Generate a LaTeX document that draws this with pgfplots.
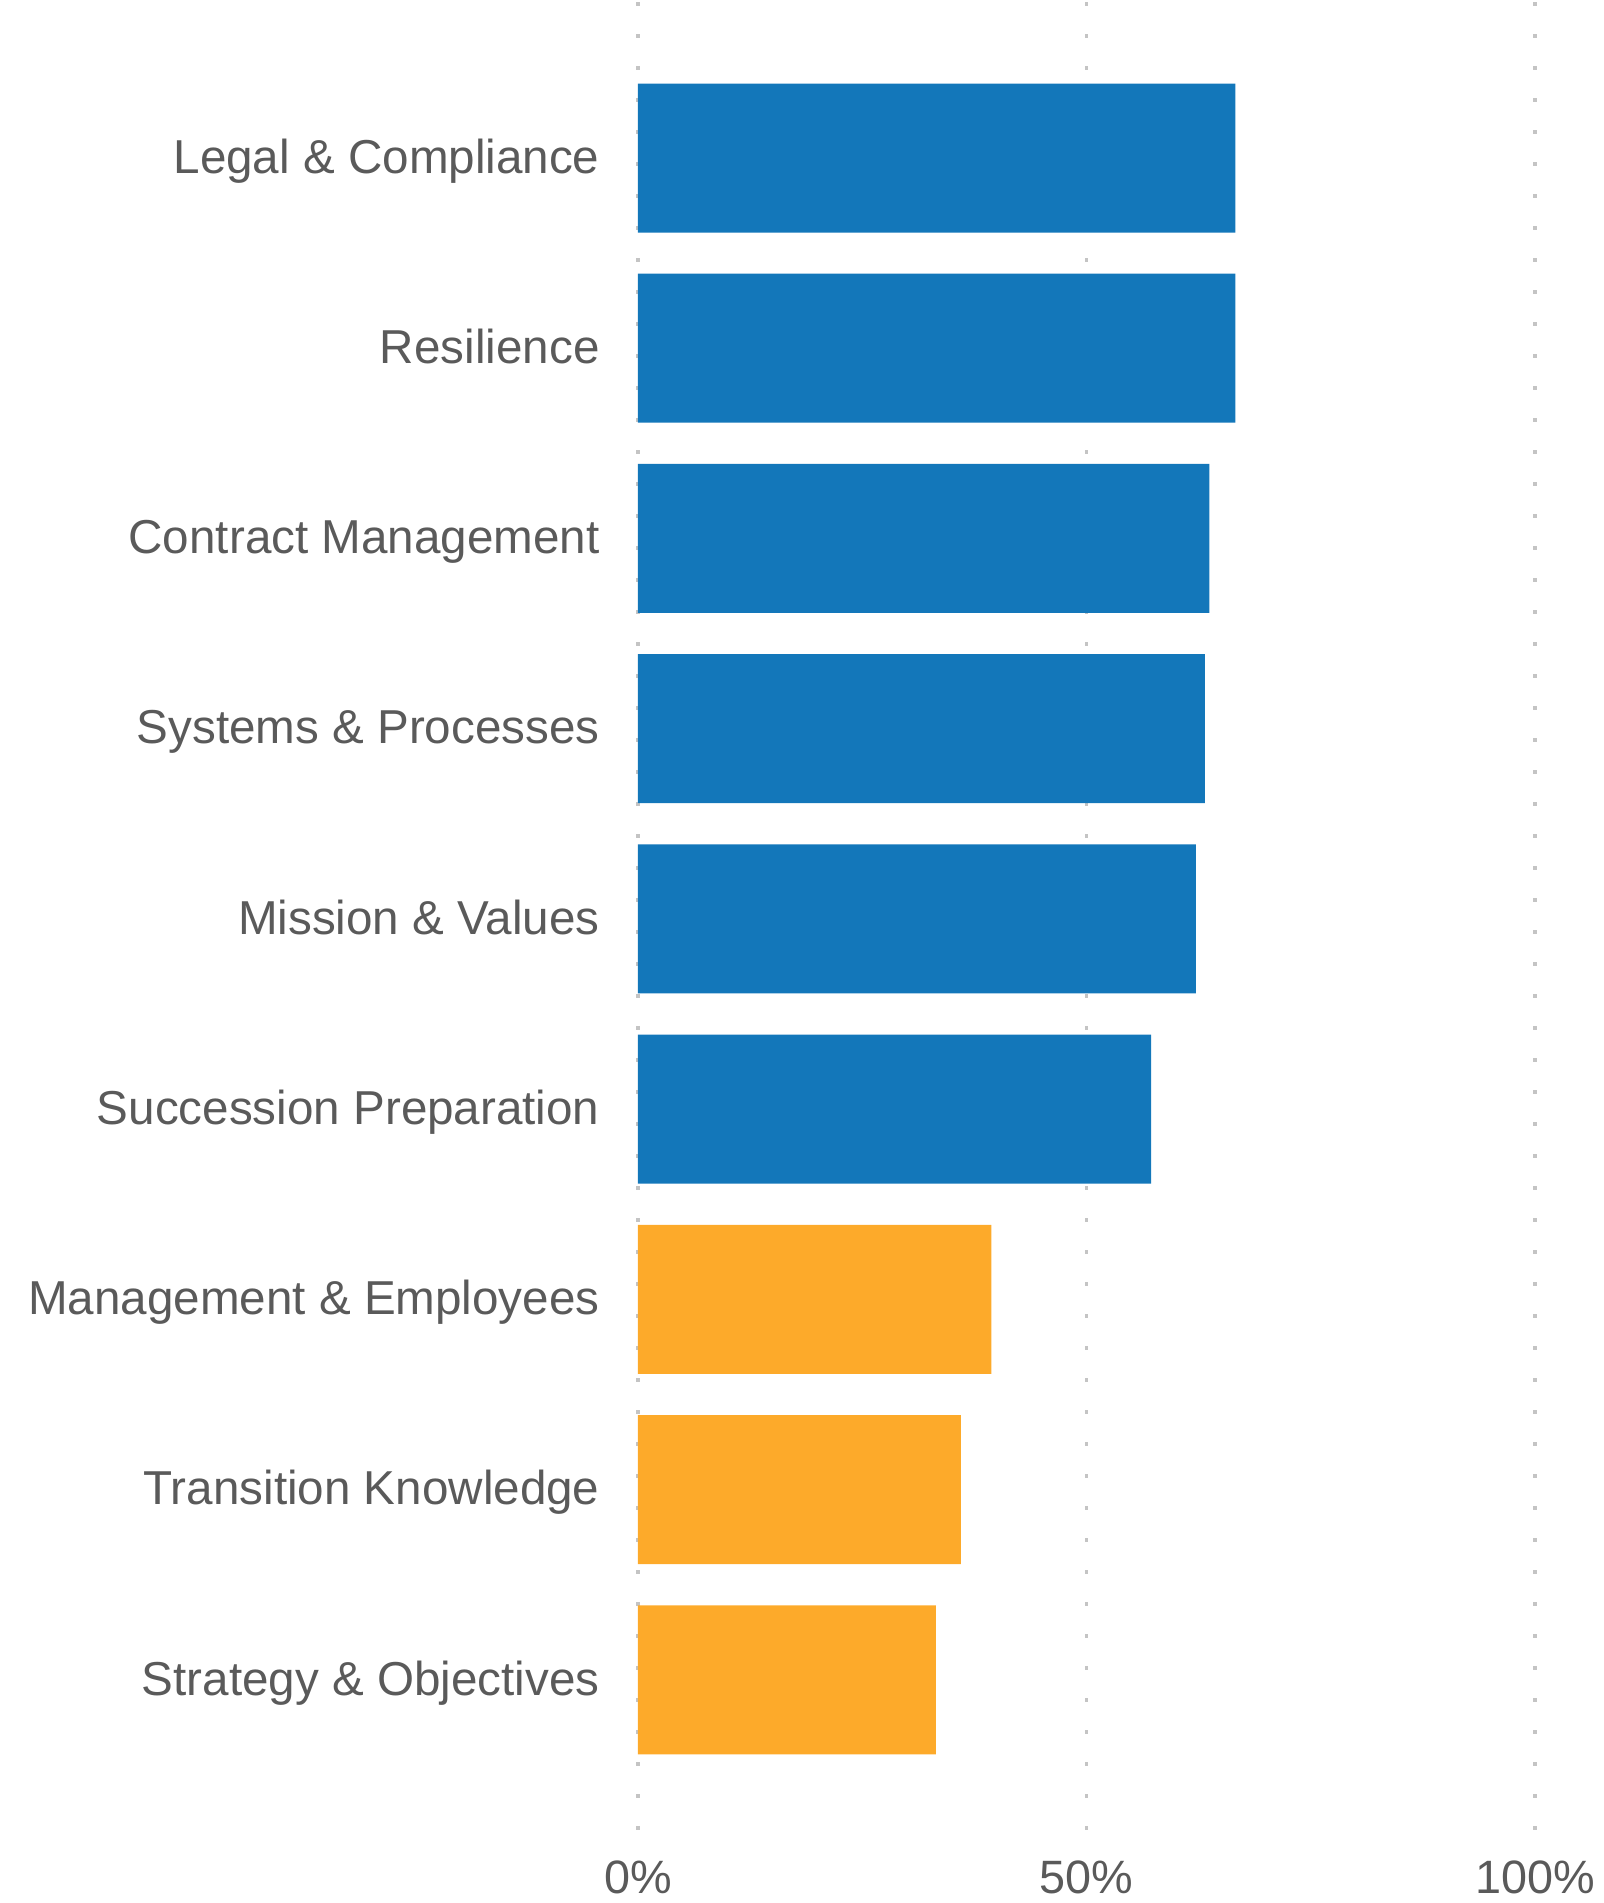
\documentclass[border=0pt]{standalone}
\usepackage{fontspec}
\setmainfont{Liberation Sans}
\usepackage{pgfplots}
\pgfplotsset{compat=1.18}
\definecolor{barblue}{RGB}{19,119,186}
\definecolor{barorange}{RGB}{253,170,42}
\definecolor{labelgray}{RGB}{90,90,90}
\definecolor{gridgray}{RGB}{196,196,196}
\begin{document}
\begin{tikzpicture}
\begin{axis}[
    scale only axis,
    width=448.5pt, height=915pt,
    xmin=0, xmax=100,
    ymin=-0.82, ymax=8.8,
    y dir=reverse,
    xtick={0,50,100},
    xticklabels={0\%,50\%,100\%},
    ytick={0,...,8},
    yticklabels={Legal \& Compliance, Resilience, Contract Management,
        Systems \& Processes, Mission \& Values, Succession Preparation,
        Management \& Employees, Transition Knowledge, Strategy \& Objectives},
    axis line style={draw=none},
    major tick length=0pt,
    tick style={draw=none},
    xmajorgrids=true,
    ymajorgrids=false,
    major grid style={gridgray, line width=1.8pt, dash pattern=on 1.8pt off 14.2pt},
    yticklabel style={font=\fontsize{23.8}{28}\selectfont, text=labelgray,
        inner sep=0pt, anchor=east, xshift=-19pt, yshift=-4pt,
        text height=0.716em, text depth=0pt},
    xticklabel style={font=\fontsize{23.4}{28}\selectfont, text=labelgray,
        inner sep=0pt, anchor=north, yshift=-14pt},
]
% blue group
\addplot[xbar, fill=barblue, draw=none, bar width=74.5pt, bar shift=0pt]
    coordinates {(66.6,0) (66.6,1) (63.7,2) (63.2,3) (62.2,4) (57.2,5)};
% orange group
\addplot[xbar, fill=barorange, draw=none, bar width=74.5pt, bar shift=0pt]
    coordinates {(39.4,6) (36.0,7) (33.2,8)};
\end{axis}
\pgfresetboundingbox
\path[use as bounding box] (-319pt,-35.5pt) rectangle (482.5pt,916pt);
\end{tikzpicture}
\end{document}
